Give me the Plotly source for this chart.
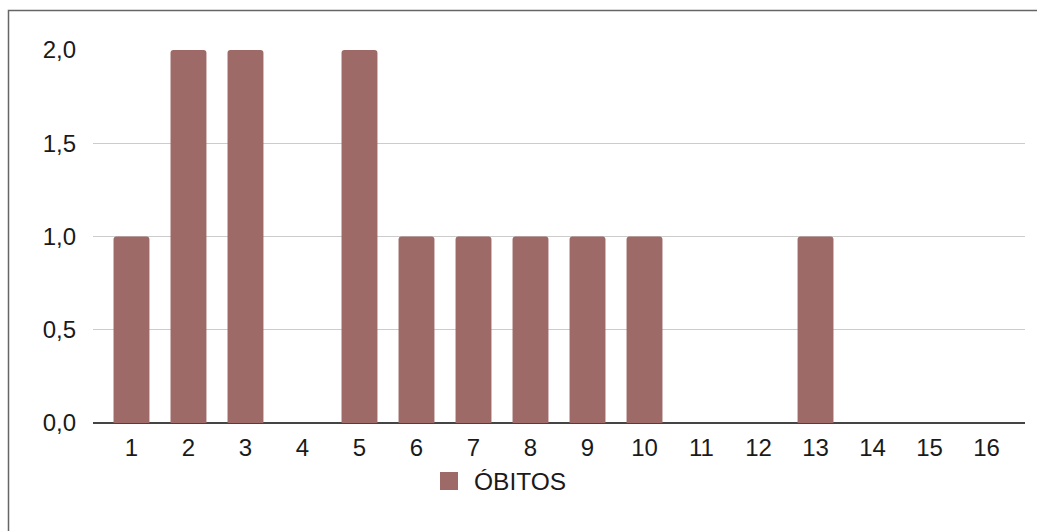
import plotly.graph_objects as go

# Deaths per case number
categories = [str(i) for i in range(1, 17)]
obitos = [1, 2, 2, 0, 2, 1, 1, 1, 1, 1, 0, 0, 1, 0, 0, 0]
y_ticks = [0, 0.5, 1.0, 1.5, 2.0]
series_name = "ÓBITOS"
bar_color = "#9e6a68"

x_pos = list(range(1, len(categories) + 1))

fig = go.Figure(
    go.Bar(
        x=x_pos,
        y=obitos,
        name=series_name,
        marker=dict(color=bar_color, line=dict(width=0)),
        width=0.63,
        showlegend=False,
    )
)

W, H = 1037, 531
L, R, T, B = 93, 12, 50, 108
pw, ph = W - L - R, H - T - B

def px_to_paper_x(px):
    return (px - L) / pw

def px_to_paper_y(py):
    return (H - B - py) / ph

FONT = "Liberation Sans, Arial, sans-serif"

fig.update_layout(
    width=W,
    height=H,
    margin=dict(l=L, r=R, t=T, b=B),
    paper_bgcolor="white",
    plot_bgcolor="white",
    separators=",.",
    barcornerradius=3,
    font=dict(family=FONT, size=24, color="#1a1a1a"),
    showlegend=False,
    xaxis=dict(
        range=[0.325, 16.675],
        tickmode="array",
        tickvals=x_pos,
        ticktext=categories,
        showgrid=False,
        zeroline=False,
        showline=False,
        ticks="",
        ticklabelstandoff=8,
    ),
    yaxis=dict(
        range=[0, 2],
        tickmode="array",
        tickvals=y_ticks,
        tickformat=".1f",
        showgrid=True,
        gridcolor="#cccccc",
        gridwidth=1,
        zeroline=True,
        zerolinecolor="#444444",
        zerolinewidth=2,
        showline=False,
        ticks="",
        ticklabelstandoff=16,
    ),
    shapes=[
        # outer chart frame
        dict(
            type="rect",
            xref="paper",
            yref="paper",
            x0=px_to_paper_x(8.5),
            x1=px_to_paper_x(1060),
            y0=px_to_paper_y(560),
            y1=px_to_paper_y(10.5),
            line=dict(color="#666666", width=1.5),
            fillcolor="rgba(0,0,0,0)",
            layer="below",
        ),
        # legend swatch
        dict(
            type="rect",
            xref="paper",
            yref="paper",
            x0=px_to_paper_x(440),
            x1=px_to_paper_x(458),
            y0=px_to_paper_y(490),
            y1=px_to_paper_y(472),
            line=dict(width=0),
            fillcolor=bar_color,
        ),
    ],
    annotations=[
        dict(
            text=series_name,
            xref="paper",
            yref="paper",
            x=px_to_paper_x(472),
            y=px_to_paper_y(481),
            xanchor="left",
            yanchor="middle",
            showarrow=False,
            font=dict(family=FONT, size=24.5, color="#1a1a1a"),
        )
    ],
)

fig.write_html("out.html")
